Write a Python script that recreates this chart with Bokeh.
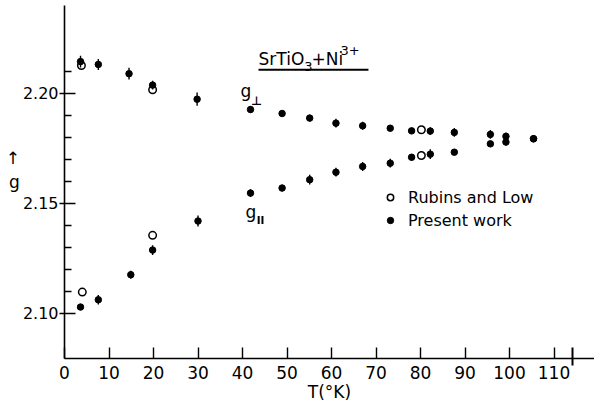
from bokeh.plotting import figure
from bokeh.models import (Range1d, FixedTicker, NumeralTickFormatter, Label, BoxAnnotation,
                          Legend, LegendItem, ColumnDataSource)
from bokeh.embed import file_html
from bokeh.resources import INLINE

# ---- data ----
# Present work, g_perp
T_perp = [3.6, 7.6, 14.5, 19.8, 29.8, 41.8, 48.9, 55.1, 61.0, 67.0, 73.2, 78.0, 82.2, 87.6, 95.7, 99.2, 105.4]
g_perp = [2.2145, 2.2132, 2.2090, 2.2038, 2.1974, 2.1927, 2.1909, 2.1888, 2.1865, 2.1853,
          2.1842, 2.1830, 2.1829, 2.1823, 2.1814, 2.1805, 2.1794]
e_perp = [0.0027, 0.0025, 0.0027, 0.0020, 0.0030, 0.0015, 0.0012, 0.0015, 0.0020, 0.0018,
          0.0012, 0.0012, 0.0018, 0.0020, 0.0020, 0.0018, 0.0]
# Present work, g_par
T_par = [3.6, 7.6, 14.9, 19.8, 30.0, 41.8, 48.9, 55.1, 61.0, 67.0, 73.2, 78.0, 82.2, 87.6, 95.7, 99.2, 105.4]
g_par = [2.1029, 2.1062, 2.1176, 2.1288, 2.1420, 2.1547, 2.1570, 2.1608, 2.1642, 2.1668,
         2.1683, 2.1710, 2.1724, 2.1733, 2.1771, 2.1779, 2.1794]
e_par = [0.0, 0.0022, 0.0018, 0.0022, 0.0025, 0.0018, 0.0015, 0.0022, 0.0020, 0.0020,
         0.0020, 0.0015, 0.0022, 0.0012, 0.0012, 0.0015, 0.0]
# Rubins and Low
T_rl_perp = [3.8, 19.8, 80.2]
g_rl_perp = [2.2127, 2.2017, 2.1835]
T_rl_par = [4.0, 19.8, 80.2]
g_rl_par = [2.1097, 2.1355, 2.1718]

x_ticks = [0, 10, 20, 30, 40, 50, 60, 70, 80, 90, 100, 110]
x_mark = [114.2]
y_major = [2.10, 2.15, 2.20]
y_minor = [2.11, 2.12, 2.13, 2.14, 2.16, 2.17, 2.18, 2.19, 2.21]

FONT = "DejaVu Sans"

p = figure(width=594, height=406, output_backend="svg", toolbar_location=None,
           x_range=Range1d(0, 119.1), y_range=Range1d(2.0795, 2.2400),
           min_border_left=64, min_border_right=0, min_border_top=5, min_border_bottom=48,
           background_fill_color="white", border_fill_color="white")
p.outline_line_color = None
p.grid.visible = False

# axes
xa = p.xaxis[0]
xa.ticker = FixedTicker(ticks=x_ticks, minor_ticks=x_mark)
xa.axis_line_width = 1.6
xa.major_tick_in = 11
xa.major_tick_out = 0
xa.major_tick_line_width = 1.4
xa.minor_tick_in = 11
xa.minor_tick_out = 7
xa.minor_tick_line_width = 2
xa.major_label_text_font = FONT
xa.major_label_text_font_size = "17px"
xa.major_label_text_color = "black"
xa.major_label_standoff = 0
xa.axis_label = "T(°K)"
xa.axis_label_text_font = FONT
xa.axis_label_text_font_size = "17px"
xa.axis_label_text_font_style = "normal"
xa.axis_label_text_color = "black"
xa.axis_label_standoff = 0

ya = p.yaxis[0]
ya.ticker = FixedTicker(ticks=y_major, minor_ticks=y_minor)
ya.formatter = NumeralTickFormatter(format="0.00")
ya.axis_line_width = 1.6
ya.major_tick_in = 11
ya.major_tick_out = 5
ya.major_tick_line_width = 1.4
ya.minor_tick_in = 7
ya.minor_tick_out = 0
ya.minor_tick_line_width = 1.4
ya.major_label_text_font = FONT
ya.major_label_text_font_size = "16px"
ya.major_label_text_color = "black"
ya.major_label_standoff = 1
ya.axis_label = "↑\ng\n "
ya.axis_label_orientation = "horizontal"
ya.axis_label_text_font = FONT
ya.axis_label_text_font_size = "17px"
ya.axis_label_text_font_style = "normal"
ya.axis_label_text_color = "black"
ya.axis_label_standoff = 0

# error bars
src_perp = ColumnDataSource(dict(T=T_perp, g=g_perp,
                                 lo=[g - e for g, e in zip(g_perp, e_perp)],
                                 hi=[g + e for g, e in zip(g_perp, e_perp)]))
src_par = ColumnDataSource(dict(T=T_par, g=g_par,
                                lo=[g - e for g, e in zip(g_par, e_par)],
                                hi=[g + e for g, e in zip(g_par, e_par)]))

r_open = p.scatter(T_rl_perp, g_rl_perp, marker="circle", size=7.5, fill_color="white",
                   line_color="black", line_width=1.5)
p.scatter(T_rl_par, g_rl_par, marker="circle", size=7.5, fill_color="white",
          line_color="black", line_width=1.5)

for src in (src_perp, src_par):
    p.segment(x0="T", y0="lo", x1="T", y1="hi", source=src, line_color="black", line_width=1.4)
r_fill = p.scatter("T", "g", source=src_perp, marker="circle", size=6.5,
                   fill_color="black", line_color="black")
p.scatter("T", "g", source=src_par, marker="circle", size=6.5,
          fill_color="black", line_color="black")

# legend
legend = Legend(items=[LegendItem(label="Rubins and Low", renderers=[r_open]),
                       LegendItem(label="Present work", renderers=[r_fill])],
                location=(318, 128), border_line_color=None, background_fill_alpha=0,
                padding=0, margin=0, spacing=3, glyph_width=16, glyph_height=16,
                label_height=20, label_standoff=10,
                label_text_font=FONT, label_text_font_size="16px", label_text_color="black")
p.add_layout(legend)

def lab(x, y, text, size, align="left", baseline="alphabetic", style="normal"):
    p.add_layout(Label(x=x, y=y, text=text, text_font=FONT, text_font_size=size,
                       text_color="black", text_align=align, text_baseline=baseline,
                       text_font_style=style))

# title SrTiO3+Ni3+
lab(43.6, 2.2159, "SrTiO", "17px")
lab(53.9, 2.2123, "3", "13px")
lab(55.5, 2.2159, "+Ni", "17px")
lab(62.0, 2.2195, "3+", "13px")
p.add_layout(BoxAnnotation(left=43.6, right=68.3, bottom=2.2103, top=2.2112,
                           fill_color="black", fill_alpha=1, line_color=None))

# series labels
lab(39.55, 2.2009, "g", "17px")
lab(41.9, 2.1968, "⊥", "12px", style="bold")
lab(40.7, 2.1459, "g", "17px")
lab(43.2, 2.1423, "ll", "11px", style="bold")

open("out.html", "w").write(file_html(p, INLINE))
